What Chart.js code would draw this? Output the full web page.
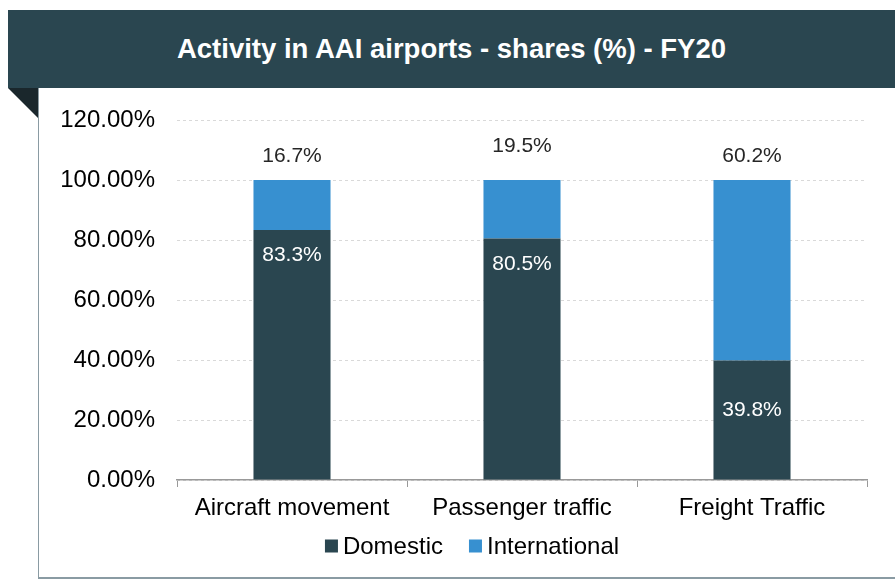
<!DOCTYPE html>
<html>
<head>
<meta charset="utf-8">
<script src="https://cdn.jsdelivr.net/npm/chart.js@4.4.1/dist/chart.umd.min.js"></script>
<style>
    body { margin: 0; background: #fff; font-family: "Liberation Sans", Arial, sans-serif; }
    #wrap { position: relative; width: 895px; height: 584px; overflow: hidden; }
    #banner {
        position: absolute; left: 8px; top: 10px; width: 887px; height: 78px;
        background: #2a4650; color: #fff; font-weight: bold; font-size: 27.5px;
        display: flex; align-items: center; justify-content: center;
    }
    #fold {
        position: absolute; left: 8px; top: 88px; width: 0; height: 0;
        border-top: 30px solid #1a272c; border-left: 30px solid transparent;
    }
    #box {
        position: absolute; left: 38px; top: 88px; width: 870px; height: 489px;
        border-left: 1px solid #8a9ba3; border-bottom: 2px solid #8a9ba3;
    }
    canvas { position: absolute; left: 0; top: 0; }
</style>
</head>
<body>
<div id="wrap">
    <div id="box"></div>
    <div id="banner">Activity in AAI airports - shares (%) - FY20</div>
    <div id="fold"></div>
    <canvas id="chart" width="895" height="584"></canvas>
</div>
<script>
// Chart data
const categories = ['Aircraft movement', 'Passenger traffic', 'Freight Traffic'];
const domestic = [83.3, 80.5, 39.8];
const international = [16.7, 19.5, 60.2];
const yTicks = [0, 20, 40, 60, 80, 100, 120];

// label placement (px from bar top)
const domesticLabelOffset = [25, 26, 50];
const internationalLabelOffset = [24, 34, 24];

const FONT = '"Liberation Sans", Arial, sans-serif';

// Draw value labels on the bars
const barLabels = {
    id: 'barLabels',
    afterDatasetsDraw(chart) {
        const ctx = chart.ctx;
        ctx.save();
        ctx.font = '21px ' + FONT;
        ctx.textAlign = 'center';
        ctx.textBaseline = 'middle';
        chart.getDatasetMeta(0).data.forEach((bar, i) => {
            ctx.fillStyle = '#ffffff';
            ctx.fillText(domestic[i].toFixed(1) + '%', bar.x, bar.y + domesticLabelOffset[i]);
        });
        chart.getDatasetMeta(1).data.forEach((bar, i) => {
            ctx.fillStyle = '#262626';
            ctx.fillText(international[i].toFixed(1) + '%', bar.x, bar.y - internationalLabelOffset[i]);
        });
        ctx.restore();
    }
};

// Legend drawn by hand: tight gap between swatch and text like Excel
const bottomLegend = {
    id: 'bottomLegend',
    afterDraw(chart) {
        const ctx = chart.ctx;
        const box = 13, gap = 5, itemGap = 26;
        const centerX = 472, centerY = 546;
        ctx.save();
        ctx.font = '24px ' + FONT;
        ctx.textBaseline = 'middle';
        const items = chart.data.datasets.map(ds => ({ text: ds.label, color: ds.backgroundColor, w: ctx.measureText(ds.label).width }));
        const total = items.reduce((acc, it) => acc + box + gap + it.w, 0) + itemGap * (items.length - 1);
        let x = centerX - total / 2;
        items.forEach(it => {
            ctx.fillStyle = it.color;
            ctx.fillRect(x, centerY - box / 2, box, box);
            x += box + gap;
            ctx.fillStyle = '#000';
            ctx.fillText(it.text, x, centerY + 1);
            x += it.w + itemGap;
        });
        ctx.restore();
    }
};

const ctx = document.getElementById('chart').getContext('2d');
const chart = new Chart(ctx, {
    type: 'bar',
    data: {
        labels: categories,
        datasets: [
            { label: 'Domestic', data: domestic, backgroundColor: '#2a4650', categoryPercentage: 1, barPercentage: 0.335 },
            { label: 'International', data: international, backgroundColor: '#3790d0', categoryPercentage: 1, barPercentage: 0.335 }
        ]
    },
    options: {
        responsive: false,
        animation: false,
        layout: { padding: { top: 120, left: 0, right: 28, bottom: 58 } },
        plugins: {
            tooltip: { enabled: false },
            legend: { display: false }
        },
        scales: {
            x: {
                stacked: true,
                afterFit: scale => { scale.height = 46; },
                grid: { offset: true, drawOnChartArea: false, drawTicks: true, tickLength: 7, color: '#999' },
                border: { display: true, color: '#999', width: 1.5 },
                ticks: { font: { size: 24, family: FONT }, color: '#000', padding: 7 }
            },
            y: {
                stacked: true,
                min: 0,
                max: 120,
                afterFit: scale => { scale.width = 177; },
                afterBuildTicks: scale => { scale.ticks = yTicks.map(v => ({ value: v })); },
                grid: { color: '#d9d9d9', drawTicks: false, tickLength: 0 },
                border: { display: false, dash: [3, 3] },
                ticks: {
                    font: { size: 24, family: FONT },
                    color: '#000',
                    padding: 22,
                    callback: v => v.toFixed(2) + '%'
                }
            }
        }
    },
    plugins: [barLabels, bottomLegend]
});
</script>
</body>
</html>
